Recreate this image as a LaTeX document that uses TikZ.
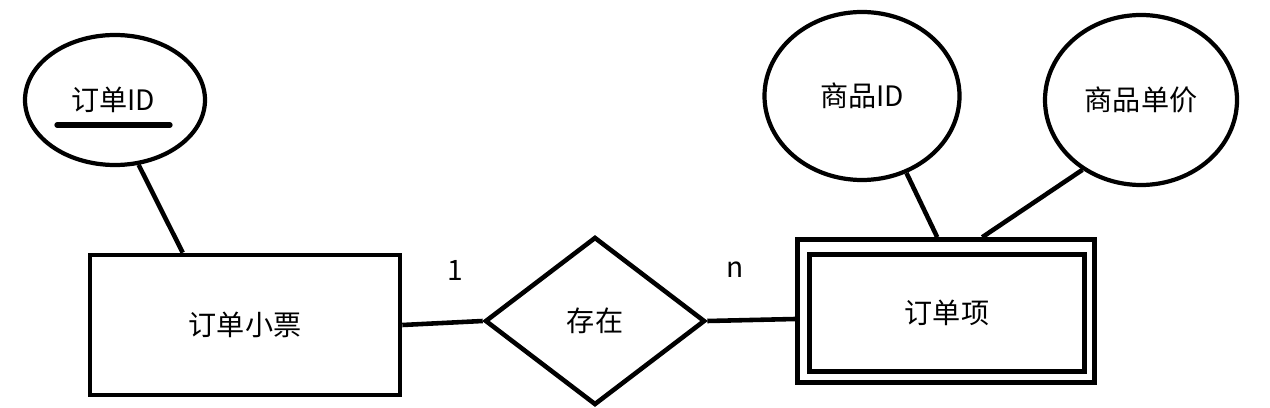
\documentclass[tikz,border=0pt]{standalone}
\usepackage{fontspec}
\setmainfont{Noto Sans CJK SC}
\usetikzlibrary{shapes.geometric,calc}

\tikzset{
  attr/.style={draw,ellipse,line width=2.4pt,inner sep=0pt},
  entity/.style={draw,line width=2.6pt,inner sep=0pt},
  link/.style={line width=2.6pt}
}

\begin{document}
\begin{tikzpicture}[x=0.02cm,y=-0.02cm,font=\fontsize{16}{18}\selectfont]
      \useasboundingbox (0,0) rectangle (1270,408);

      \node[entity,minimum width=310*0.02cm,minimum height=140*0.02cm] (ticket) at (245,325) {订单小票};
      \node[draw,diamond,line width=2.6pt,inner sep=0pt,aspect=1.31,minimum width=220*0.02cm,minimum height=168*0.02cm] (exist) at (595,321) {存在};
      \node[entity,minimum width=297*0.02cm,minimum height=143*0.02cm] (itemout) at (946,311) {};
      \node[entity,line width=3pt,minimum width=275*0.02cm,minimum height=117*0.02cm] (item) at (947,313) {订单项};

      \node[attr,minimum width=180*0.02cm,minimum height=130*0.02cm] (oid) at (115,100) {};
      \node at (113,100) (oidtext) {订单ID};
      \draw[link,line width=3pt,line cap=round] (57,125) -- (170,125);
      \node[attr,minimum width=195*0.02cm,minimum height=168*0.02cm] (gid) at (862,96) {商品ID};
      \node[attr,minimum width=192*0.02cm,minimum height=170*0.02cm] (price) at (1141,100) {商品单价};

      \path (455,270) node (one) {1} (735,270) node (many) {n};

      \draw[link] (oid.290) -- ([xshift=95*0.02cm]ticket.north west);
      \draw[link] (ticket.east) -- (exist.west);
      \draw[link] (exist.east) -- ([yshift=-8*0.02cm]itemout.west);
      \draw[link] (gid.300) -- ([xshift=142*0.02cm]itemout.north west);
      \draw[link] (price.230) -- ([xshift=187*0.02cm]itemout.north west);
    \end{tikzpicture}
\end{document}
